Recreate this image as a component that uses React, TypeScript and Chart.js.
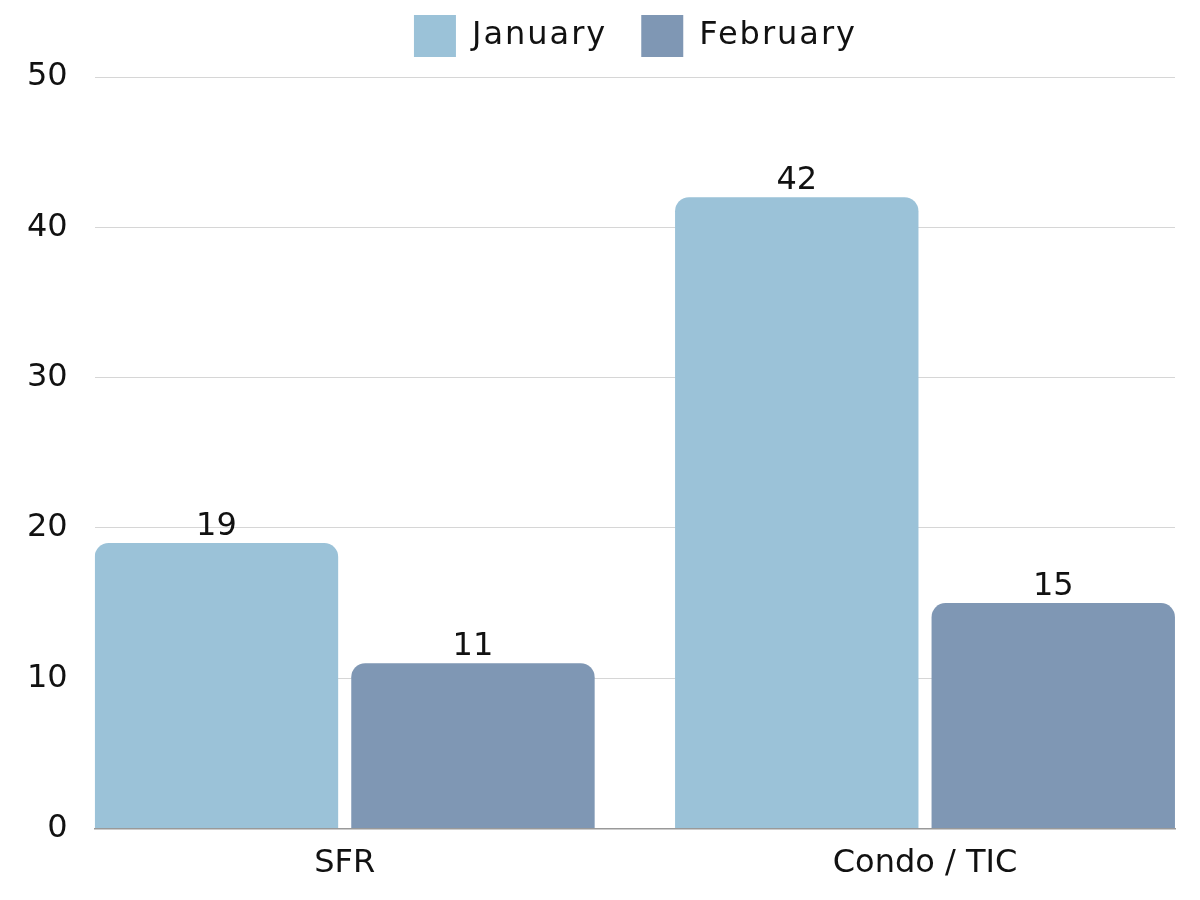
import React, { useEffect, useRef } from "react";
import { Chart, registerables } from "chart.js";

Chart.register(...registerables);

const categories = ["SFR", "Condo / TIC"];
const januaryValues = [19, 42];
const februaryValues = [11, 15];
const seriesNames = ["January", "February"];
const yTicks = [0, 10, 20, 30, 40, 50];

const FONT = "'DejaVu Sans', sans-serif";
const FONT_SIZE = 32;

const valueLabels = {
  id: "valueLabels",
  afterDatasetsDraw(chart: any) {
    const ctx = chart.ctx;
    ctx.save();
    ctx.font = `${FONT_SIZE}px ${FONT}`;
    ctx.fillStyle = "#111";
    ctx.textAlign = "center";
    ctx.textBaseline = "alphabetic";
    chart.data.datasets.forEach((ds: any, i: number) => {
      const meta = chart.getDatasetMeta(i);
      meta.data.forEach((bar: any, j: number) => {
        ctx.fillText(String(ds.data[j]), bar.x, bar.y - 8);
      });
    });
    ctx.restore();
  },
};

const legendTweak = {
  id: "legendTweak",
  beforeInit(chart: any) {
    const legend = chart.legend;
    if (!legend) return;
    const origFit = legend.fit;
    const origDraw = legend.draw;
    legend.fit = function () {
      const ctx = this.ctx;
      const prev = ctx.letterSpacing;
      ctx.letterSpacing = "2px";
      origFit.call(this);
      ctx.letterSpacing = prev;
      this.height += 10;
    };
    legend.draw = function () {
      const ctx = this.ctx;
      ctx.save();
      ctx.letterSpacing = "2px";
      ctx.translate(48, 0);
      origDraw.call(this);
      ctx.restore();
    };
  },
};

export default function App() {
  const ref = useRef<HTMLCanvasElement>(null);
  useEffect(() => {
    document.body.style.margin = "0";
    const chart = new Chart(ref.current!, {
      type: "bar",
      data: {
        labels: categories,
        datasets: [
          { label: seriesNames[0], data: januaryValues, backgroundColor: "#9BC2D8", borderRadius: 14, borderSkipped: "start" },
          { label: seriesNames[1], data: februaryValues, backgroundColor: "#7F97B4", borderRadius: 14, borderSkipped: "start" },
        ],
      },
      options: {
        animation: false,
        responsive: false,
        maintainAspectRatio: false,
        layout: { padding: { left: 0, right: 25, top: -19, bottom: 1 } },
        datasets: { bar: { categoryPercentage: 0.884, barPercentage: 0.949 } },
        plugins: {
          legend: {
            position: "top",
            labels: {
              boxWidth: 42,
              boxHeight: 42,
              padding: 34,
              color: "#111",
              font: { family: FONT, size: FONT_SIZE },
            },
          },
          tooltip: { enabled: false },
        },
        scales: {
          x: {
            offset: true,
            afterBuildTicks: (axis: any) => {
              axis._startValue = -0.4308;
              axis._valueRange = categories.length - 1 + 0.8616;
            },
            grid: { display: false, drawTicks: false },
            border: { display: true, color: "#999", width: 1.5 },
            ticks: { color: "#111", font: { family: FONT, size: FONT_SIZE }, padding: 16 },
          },
          y: {
            min: 0,
            max: 50,
            afterBuildTicks: (axis: any) => {
              axis.ticks = yTicks.map((v) => ({ value: v }));
            },
            grid: { color: "#d6d6d6", drawTicks: false },
            border: { display: false },
            ticks: { color: "#111", font: { family: FONT, size: FONT_SIZE }, padding: 27 },
          },
        },
      },
      plugins: [valueLabels, legendTweak],
    });
    return () => chart.destroy();
  }, []);
  return (
    <div style={{ width: 1200, height: 900 }}>
      <canvas ref={ref} width={1200} height={900} />
    </div>
  );
}
